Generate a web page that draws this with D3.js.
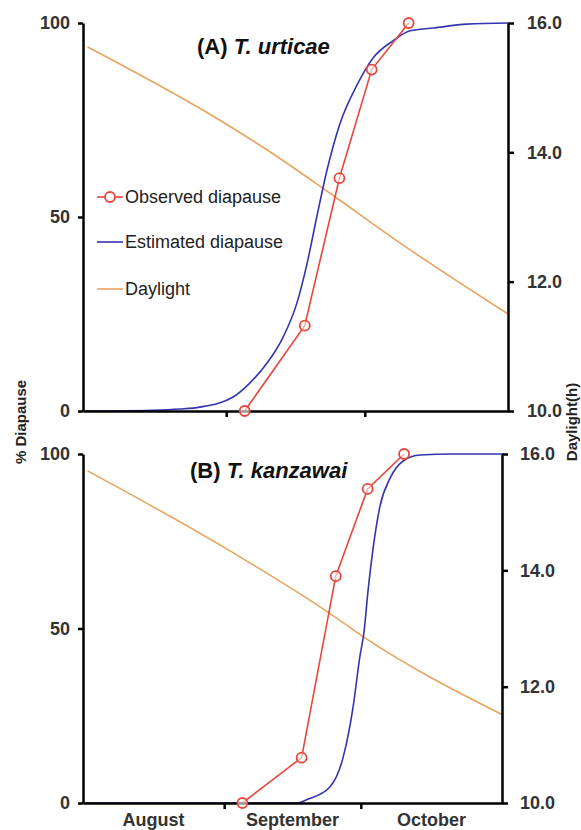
<!DOCTYPE html>
<html>
  <head>
    <title>Diapause</title>
    <meta charset="utf-8">
    <style>
      body { margin: 0; background-color: #fff; }
      svg { display: block; font-family: "Liberation Sans", Arial, sans-serif; }
      .axis path, .axis line { stroke: #000; stroke-width: 2.5px; }
      .axis text { font-size: 18px; font-weight: bold; fill: #333; }
    </style>
    <script src="https://cdn.jsdelivr.net/npm/d3@7"></script>
  </head>
  <body>
    <div id="chart"></div>
    <script>
      // days counted from 1 August
      var months = ['August', 'September', 'October'];
      var monthStarts = [0, 31, 61, 92];

      var obsDays = [35, 48, 55.5, 62.5, 70.5];
      var obsUrticae = [0, 22, 60, 88, 100];
      var obsKanzawai = [0, 13, 65, 90, 100];

      var estDaysUrticae = [0, 15, 21, 25.3, 32.5, 36.1, 39.8, 43.3, 46.3, 48.5, 50.6, 52.8, 55.6, 59.3, 62.8, 67.1, 70.8, 75.8, 83.1, 92];
      var estUrticae = [0, 0.2, 0.5, 1, 3.6, 7.2, 12.3, 19, 27.8, 38, 50, 62, 74, 84, 91, 95.4, 98, 98.7, 99.7, 100];

      var estDaysKanzawai = [0, 47, 49.2, 54.2, 57.1, 59.3, 60.8, 61.7, 62.6, 63.7, 65.2, 67.4, 70.3, 74, 81.2, 92];
      var estKanzawai = [0, 0, 1, 4.6, 13, 27.5, 42, 49, 61, 73, 85, 93, 98, 99.7, 100, 100];

      var dayDaysUrticae = [1, 26, 39.8, 54, 68.6, 92];
      var dayUrticae = [15.63, 14.65, 14.04, 13.34, 12.6, 11.5];
      var dayDaysKanzawai = [1, 30, 54, 61.5, 92];
      var dayKanzawai = [15.71, 14.44, 13.27, 12.86, 11.52];

      var pctTicks = [0, 50, 100];
      var hourTicks = [10, 12, 14, 16];

      var red = '#e8463c', blue = '#3434b0', orange = '#e8a45e';

      var zip = function(xs, ys) { return xs.map(function(d, i) { return [d, ys[i]]; }); };

      var panels = [
        { title: '(A) ', species: 'T. urticae', tx: 197, ty: 54, top: 23, bottom: 411, right: 508, pad: 13,
          obs: zip(obsDays, obsUrticae), est: zip(estDaysUrticae, estUrticae), day: zip(dayDaysUrticae, dayUrticae), legend: true, months: false },
        { title: '(B) ', species: 'T. kanzawai', tx: 190, ty: 478, top: 454, bottom: 803, right: 502, pad: 12,
          obs: zip(obsDays, obsKanzawai), est: zip(estDaysKanzawai, estKanzawai), day: zip(dayDaysKanzawai, dayKanzawai), legend: false, months: true }
      ];

      var svg = d3.select('#chart').append('svg').attr('width', 581).attr('height', 830);
      var left = 83;

      panels.forEach(function(p) {
        var x = d3.scaleLinear().domain([0, 92]).range([left, p.right]);
        var y = d3.scaleLinear().domain([0, 100]).range([p.bottom, p.top]);
        var y2 = d3.scaleLinear().domain([10, 16]).range([p.bottom, p.top]);
        var g = svg.append('g');

        // daylight
        g.append('path').datum(p.day)
          .attr('fill', 'none').attr('stroke', orange).attr('stroke-width', 1.6)
          .attr('d', d3.line().x(function(d) { return x(d[0]); }).y(function(d) { return y2(d[1]); }).curve(d3.curveMonotoneX));

        // estimated
        g.append('path').datum(p.est)
          .attr('fill', 'none').attr('stroke', blue).attr('stroke-width', 1.6)
          .attr('d', d3.line().x(function(d) { return x(d[0]); }).y(function(d) { return y(d[1]); }).curve(d3.curveMonotoneX));

        // observed
        g.append('path').datum(p.obs)
          .attr('fill', 'none').attr('stroke', red).attr('stroke-width', 1.6)
          .attr('d', d3.line().x(function(d) { return x(d[0]); }).y(function(d) { return y(d[1]); }));

        // axes
        g.append('g').attr('class', 'axis').attr('transform', 'translate(0,' + p.bottom + ')')
          .call(d3.axisBottom(x).tickValues(monthStarts.slice(1, 3)).tickSize(6).tickSizeOuter(0).tickFormat(''));
        g.append('g').attr('class', 'axis').attr('transform', 'translate(' + left + ',0)')
          .call(d3.axisLeft(y).tickValues(pctTicks).tickSize(5).tickSizeOuter(0).tickPadding(8));
        g.append('g').attr('class', 'axis').attr('transform', 'translate(' + p.right + ',0)')
          .call(d3.axisRight(y2).tickValues(hourTicks).tickSize(6).tickSizeOuter(0).tickPadding(p.pad).tickFormat(d3.format('.1f')));

        g.selectAll('circle.obs').data(p.obs).enter().append('circle')
          .attr('cx', function(d) { return x(d[0]); }).attr('cy', function(d) { return y(d[1]); })
          .attr('r', 5).attr('fill', '#fff').attr('fill-opacity', 0.6).attr('stroke', red).attr('stroke-width', 1.8);

        var t = g.append('text').attr('x', p.tx).attr('y', p.ty)
          .attr('font-size', 22).attr('font-weight', 'bold').attr('fill', '#111');
        t.append('tspan').text(p.title);
        t.append('tspan').attr('font-style', 'italic').text(p.species);

        if (p.months) {
          g.selectAll('text.month').data(months).enter().append('text')
            .attr('x', function(d, i) { return (x(monthStarts[i]) + x(monthStarts[i + 1])) / 2; })
            .attr('y', 826).attr('text-anchor', 'middle')
            .attr('font-size', 18).attr('font-weight', 'bold').attr('fill', '#333')
            .text(function(d) { return d; });
        }

        if (p.legend) {
          var items = [
            { name: 'Observed diapause', color: red, marker: true, y: 197 },
            { name: 'Estimated diapause', color: blue, marker: false, y: 242 },
            { name: 'Daylight', color: orange, marker: false, y: 289 }
          ];
          var lg = g.selectAll('g.leg').data(items).enter().append('g')
            .attr('transform', function(d) { return 'translate(97,' + d.y + ')'; });
          lg.append('line').attr('x1', 0).attr('x2', 26).attr('stroke', function(d) { return d.color; }).attr('stroke-width', 1.6);
          lg.filter(function(d) { return d.marker; }).append('circle')
            .attr('cx', 13).attr('r', 5).attr('fill', '#fff').attr('stroke', red).attr('stroke-width', 1.8);
          lg.append('text').attr('x', 28).attr('dy', '0.35em')
            .attr('font-size', 18).attr('fill', '#222').text(function(d) { return d.name; });
        }
      });

      svg.append('text').attr('transform', 'translate(26,422) rotate(-90)').attr('text-anchor', 'middle')
        .attr('font-size', 15).attr('font-weight', 'bold').attr('fill', '#222').text('% Diapause');
      svg.append('text').attr('transform', 'translate(577,422) rotate(-90)').attr('text-anchor', 'middle')
        .attr('font-size', 15).attr('font-weight', 'bold').attr('fill', '#222').text('Daylight(h)');
    </script>
  </body>
</html>
